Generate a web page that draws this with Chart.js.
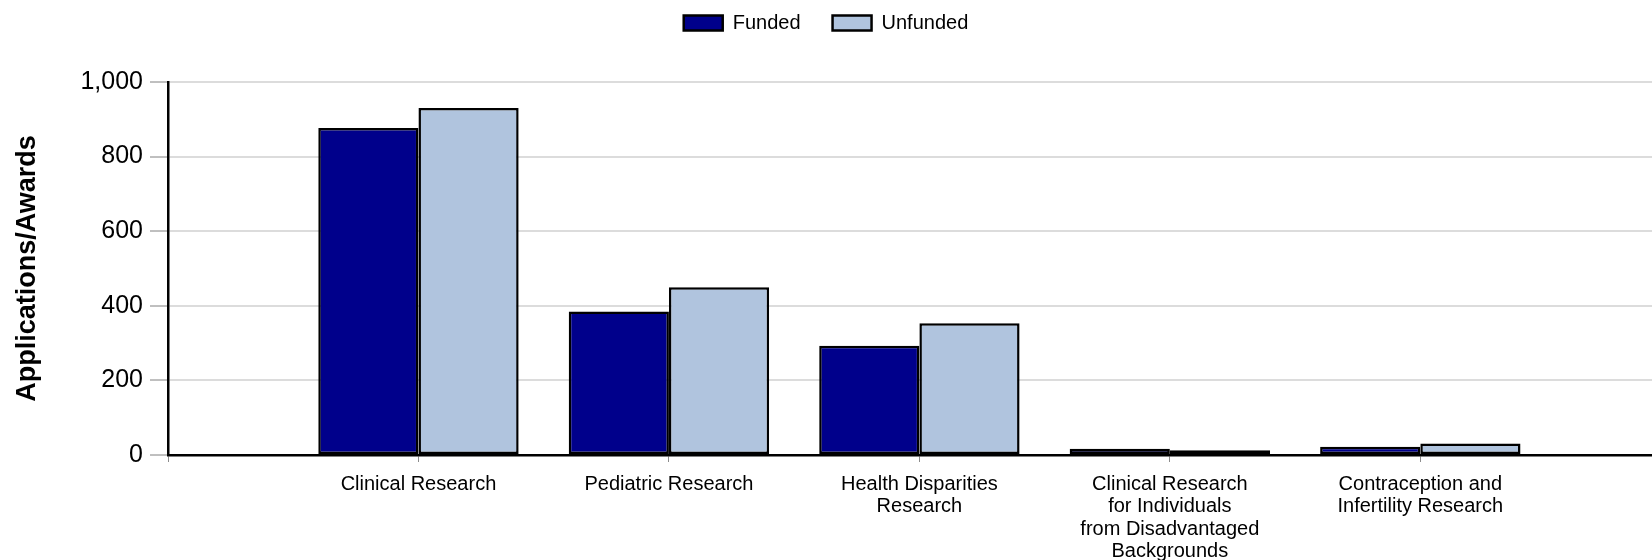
<!DOCTYPE html>
<html>
<head>
<meta charset="utf-8">
<script src="https://cdn.jsdelivr.net/npm/chart.js@4/dist/chart.umd.min.js"></script>
<style>
  html, body { margin: 0; padding: 0; background: #fff; overflow: hidden; }
  #wrap { position: relative; width: 1652px; height: 560px; }
</style>
</head>
<body>
<div id="wrap"><canvas id="c"></canvas></div>
<script>
// ---- data ----
const categories = [
  ['Clinical Research'],
  ['Pediatric Research'],
  ['Health Disparities', 'Research'],
  ['Clinical Research', 'for Individuals', 'from Disadvantaged', 'Backgrounds'],
  ['Contraception and', 'Infertility Research']
];
const seriesNames = ['Funded', 'Unfunded'];
const funded = [877, 385, 293, 17, 22];
const unfunded = [930, 450, 353, 13, 31];
const yTicks = [0, 200, 400, 600, 800, 1000];
const yTitle = 'Applications/Awards';

// category positions on a numeric axis (first category one slot in from the y axis)
const positions = categories.map((_, i) => i + 1);
const toPoints = arr => arr.map((v, i) => ({ x: positions[i], y: v }));

const FONT = '"Liberation Sans", Arial, sans-serif';

const legendSizer = {
  id: 'legendSizer',
  beforeLayout(chart) {
    const lg = chart.legend;
    if (lg && !lg._sized) {
      const f = lg.fit;
      lg.fit = function () { f.call(this); this.height = 101; };
      lg._sized = true;
    }
  }
};

new Chart(document.getElementById('c'), {
  type: 'bar',
  data: {
    datasets: [
      {
        label: seriesNames[0],
        data: toPoints(funded),
        backgroundColor: '#00008B',
        borderColor: '#000000',
        borderWidth: 2.5,
        borderSkipped: false
      },
      {
        label: seriesNames[1],
        data: toPoints(unfunded),
        backgroundColor: '#B0C4DE',
        borderColor: '#000000',
        borderWidth: 2.5,
        borderSkipped: false
      }
    ]
  },
  plugins: [legendSizer],
  options: {
    responsive: true,
    maintainAspectRatio: false,
    animation: false,
    locale: 'en-US',
    categoryPercentage: 0.8,
    barPercentage: 1.0,
    layout: { padding: { top: -19, left: 0, right: 0, bottom: 0 } },
    plugins: {
      tooltip: { enabled: false },
      legend: {
        display: true,
        position: 'top',
        labels: {
          boxWidth: 39,
          boxHeight: 15,
          padding: 32,
          color: '#000',
          font: { family: FONT, size: 20 }
        }
      }
    },
    scales: {
      x: {
        type: 'linear',
        min: 0,
        max: 5.925,
        offset: false,
        bounds: 'data',
        afterBuildTicks(scale) {
          scale.ticks = [0].concat(positions).map(v => ({ value: v }));
        },
        afterFit(scale) { scale.height = 105; },
        ticks: {
          autoSkip: false,
          maxRotation: 0,
          minRotation: 0,
          padding: 11,
          color: '#000',
          font: { family: FONT, size: 20, lineHeight: 1.12 },
          callback: (v) => (v >= 1 ? categories[v - 1] : '')
        },
        grid: {
          offset: false,
          drawOnChartArea: false,
          drawTicks: true,
          tickLength: 7,
          tickColor: '#8c8c8c',
          tickWidth: 1
        },
        border: { display: true, color: '#000', width: 2.5 }
      },
      y: {
        min: 0,
        max: 1000,
        afterBuildTicks(scale) {
          scale.ticks = yTicks.map(v => ({ value: v }));
        },
        afterFit(scale) { scale.width = 168; },
        ticks: {
          padding: 7,
          color: '#000',
          font: { family: FONT, size: 25 }
        },
        grid: {
          color: '#dcdcdc',
          lineWidth: 2,
          drawTicks: true,
          tickLength: 18,
          tickColor: '#808080',
          tickWidth: 1
        },
        border: { display: true, color: '#000', width: 2.5 },
        title: {
          display: true,
          text: yTitle,
          color: '#000',
          padding: { top: 11, bottom: 0 },
          font: { family: FONT, size: 27, weight: 'bold' }
        }
      }
    }
  }
});
</script>
</body>
</html>
